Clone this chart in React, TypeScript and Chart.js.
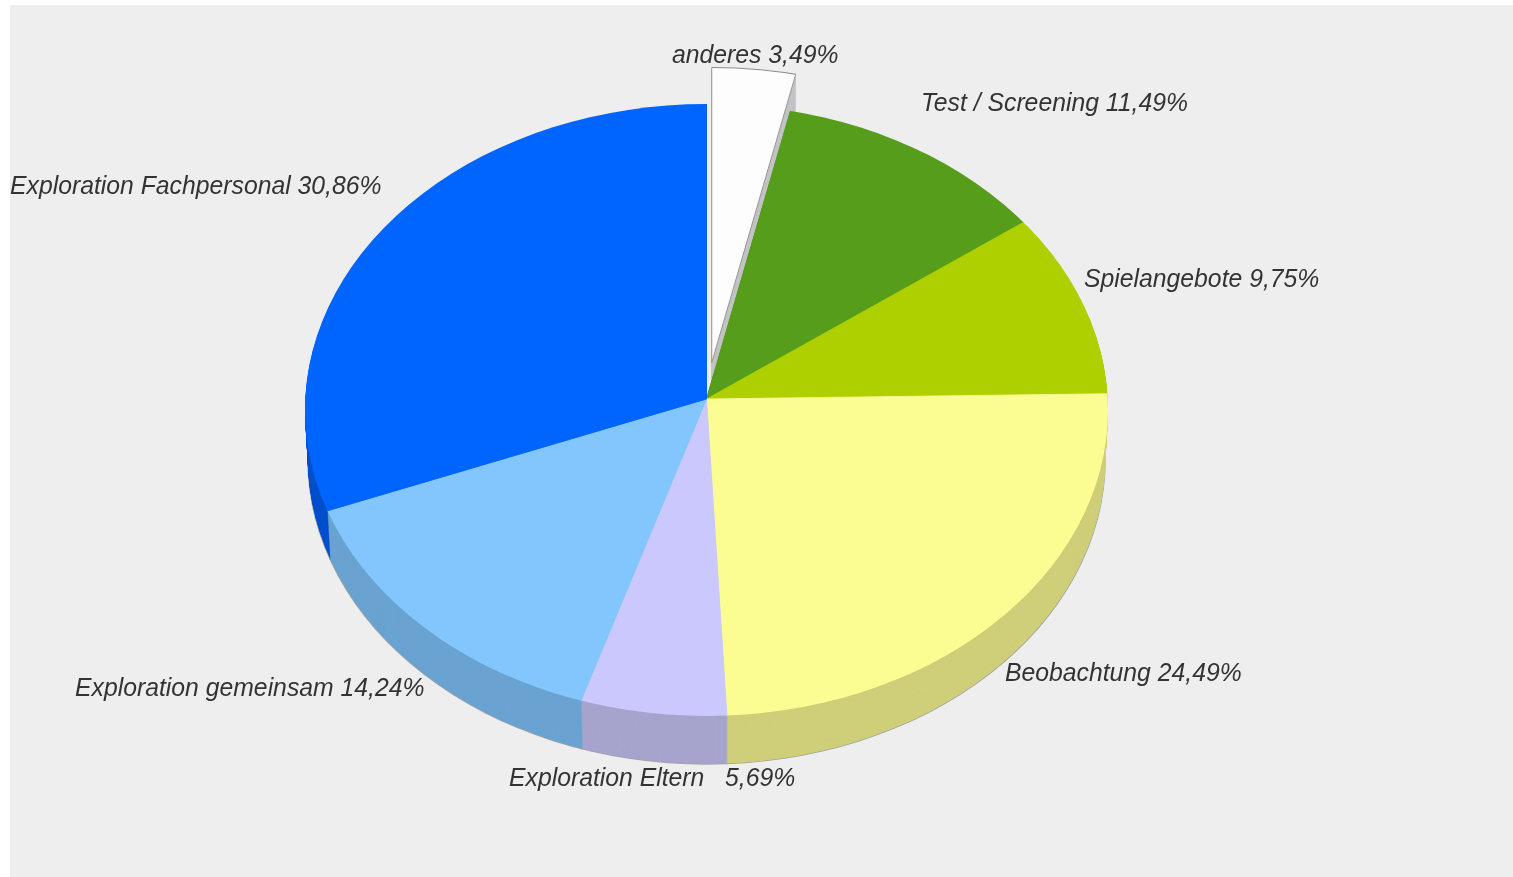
import React, { useEffect, useRef } from "react";
import { Chart, registerables } from "chart.js";

Chart.register(...registerables);

const categories = ["anderes", "Test / Screening", "Spielangebote", "Beobachtung", "Exploration Eltern  ", "Exploration gemeinsam", "Exploration Fachpersonal"];
const shares = [3.49, 11.49, 9.75, 24.49, 5.69, 14.24, 30.86];
const topColors = ["#fdfdfd", "#579d1c", "#aecf00", "#fbfd93", "#cac8fd", "#83c6fe", "#0064ff"];
const sideColors = ["#c4c4c4", "#467e16", "#8ca600", "#cfcf7a", "#a6a4cc", "#6aa3d1", "#0050cc"];
const edgeColors = ["#8c8c8c", "#579d1c", "#aecf00", "#fbfd93", "#cac8fd", "#83c6fe", "#0064ff"];
const explode = [48, 0, 0, 0, 0, 0, 0];
const labelLeft = [672, 921, 1084, 1005, 509, 75, 10];
const labelMiddle = [56, 104, 280, 674, 779, 689, 187];

const RIM_X = 401.5;
const RIM_Y = 306;
const RIM_DROP = 11;
const PIE_RADIUS = 440;
const TILT = 0.765;
const DEPTH = 48;
const DEPTH_SHRINK = 0.993;
const TEXT_SQUEEZE = 0.952;

function rimPath(ctx: CanvasRenderingContext2D, arc: any, dx: number, dy: number, sx: number) {
  ctx.beginPath();
  ctx.ellipse(arc.x + dx, arc.y + dy + RIM_DROP, RIM_X * sx, RIM_Y, 0, 0, Math.PI * 2);
}

function drawArc(ctx: CanvasRenderingContext2D, arc: any, dx: number, dy: number, sx: number) {
  ctx.save();
  rimPath(ctx, arc, dx, dy, sx);
  ctx.clip();
  ctx.translate(arc.x + dx, arc.y + dy);
  ctx.scale(sx, TILT);
  ctx.translate(-arc.x, -arc.y);
  arc.draw(ctx);
  ctx.restore();
}

function withColor(arc: any, color: string, fn: () => void) {
  const saved = arc.options;
  arc.options = { ...saved, backgroundColor: color, borderColor: color };
  fn();
  arc.options = saved;
}

function shift(arc: any, i: number) {
  const mid = (arc.startAngle + arc.endAngle) / 2;
  return { dx: explode[i] * Math.cos(mid), dy: explode[i] * Math.sin(mid) * TILT };
}

function depthShrink(d: number) {
  return 1 - (1 - DEPTH_SHRINK) * (d / DEPTH);
}

const pie3dPlugin = {
  id: "pie3d",
  beforeDraw(chart: any) {
    const { ctx } = chart;
    ctx.save();
    ctx.fillStyle = "#eeeeee";
    ctx.fillRect(10, 5, 1503, 872);
    ctx.restore();
  },
  beforeDatasetsDraw(chart: any) {
    const { ctx } = chart;
    const arcs = chart.getDatasetMeta(0).data;
    const all = arcs.map((_: any, i: number) => i);
    const exploded = all.filter((i: number) => explode[i] > 0);
    const rest = all.filter((i: number) => explode[i] === 0);

    // exploded slice first: the others sit in front of its side wall
    for (const i of exploded) {
      const arc = arcs[i];
      const { dx, dy } = shift(arc, i);
      withColor(arc, sideColors[i], () => {
        for (let d = DEPTH; d > 0; d -= 1) drawArc(ctx, arc, dx, dy + d, depthShrink(d));
      });
      drawArc(ctx, arc, dx, dy, 1);
      // rim outline of the exploded slice
      ctx.save();
      ctx.translate(arc.x + dx, arc.y + dy);
      ctx.scale(1, TILT);
      ctx.beginPath();
      ctx.moveTo(0, 0);
      ctx.arc(0, 0, PIE_RADIUS, arc.startAngle, arc.endAngle);
      ctx.closePath();
      ctx.restore();
      ctx.save();
      ctx.clip();
      rimPath(ctx, arc, dx, dy, 1);
      ctx.strokeStyle = edgeColors[i];
      ctx.lineWidth = 1.2;
      ctx.stroke();
      ctx.restore();
    }

    // thin grey line along the lower edge of the side wall
    for (const i of rest) {
      withColor(arcs[i], "#a2a2a2", () => drawArc(ctx, arcs[i], 0, DEPTH + 0.7, DEPTH_SHRINK + 0.0015));
    }
    for (let d = DEPTH; d > 0; d -= 1) {
      for (const i of rest) {
        withColor(arcs[i], sideColors[i], () => drawArc(ctx, arcs[i], 0, d, depthShrink(d)));
      }
    }
    for (const i of rest) drawArc(ctx, arcs[i], 0, 0, 1);

    ctx.save();
    ctx.font = "italic 26px 'Liberation Sans'";
    ctx.fillStyle = "#333333";
    ctx.textBaseline = "middle";
    ctx.textAlign = "left";
    categories.forEach((c, i) => {
      const text = `${c} ${shares[i].toFixed(2).replace(".", ",")}%`;
      ctx.save();
      ctx.translate(labelLeft[i], labelMiddle[i]);
      ctx.scale(TEXT_SQUEEZE, 1);
      ctx.fillText(text, 0, 0);
      ctx.restore();
    });
    ctx.restore();
    return false;
  },
};

export default function App() {
  const ref = useRef<HTMLCanvasElement>(null);
  useEffect(() => {
    document.body.style.margin = "0";
    const chart = new Chart(ref.current!, {
      type: "pie",
      data: {
        labels: categories,
        datasets: [
          {
            data: shares,
            backgroundColor: topColors,
            borderColor: edgeColors,
            borderWidth: 1,
          },
        ],
      },
      options: {
        responsive: false,
        animation: false,
        radius: PIE_RADIUS,
        layout: { padding: { right: 100, bottom: 79 } },
        plugins: { legend: { display: false }, tooltip: { enabled: false } },
      } as any,
      plugins: [pie3dPlugin],
    });
    return () => chart.destroy();
  }, []);
  return (
    <canvas
      ref={ref}
      width={1513}
      height={877}
      style={{ position: "absolute", left: 0, top: 0, display: "block" }}
    />
  );
}
